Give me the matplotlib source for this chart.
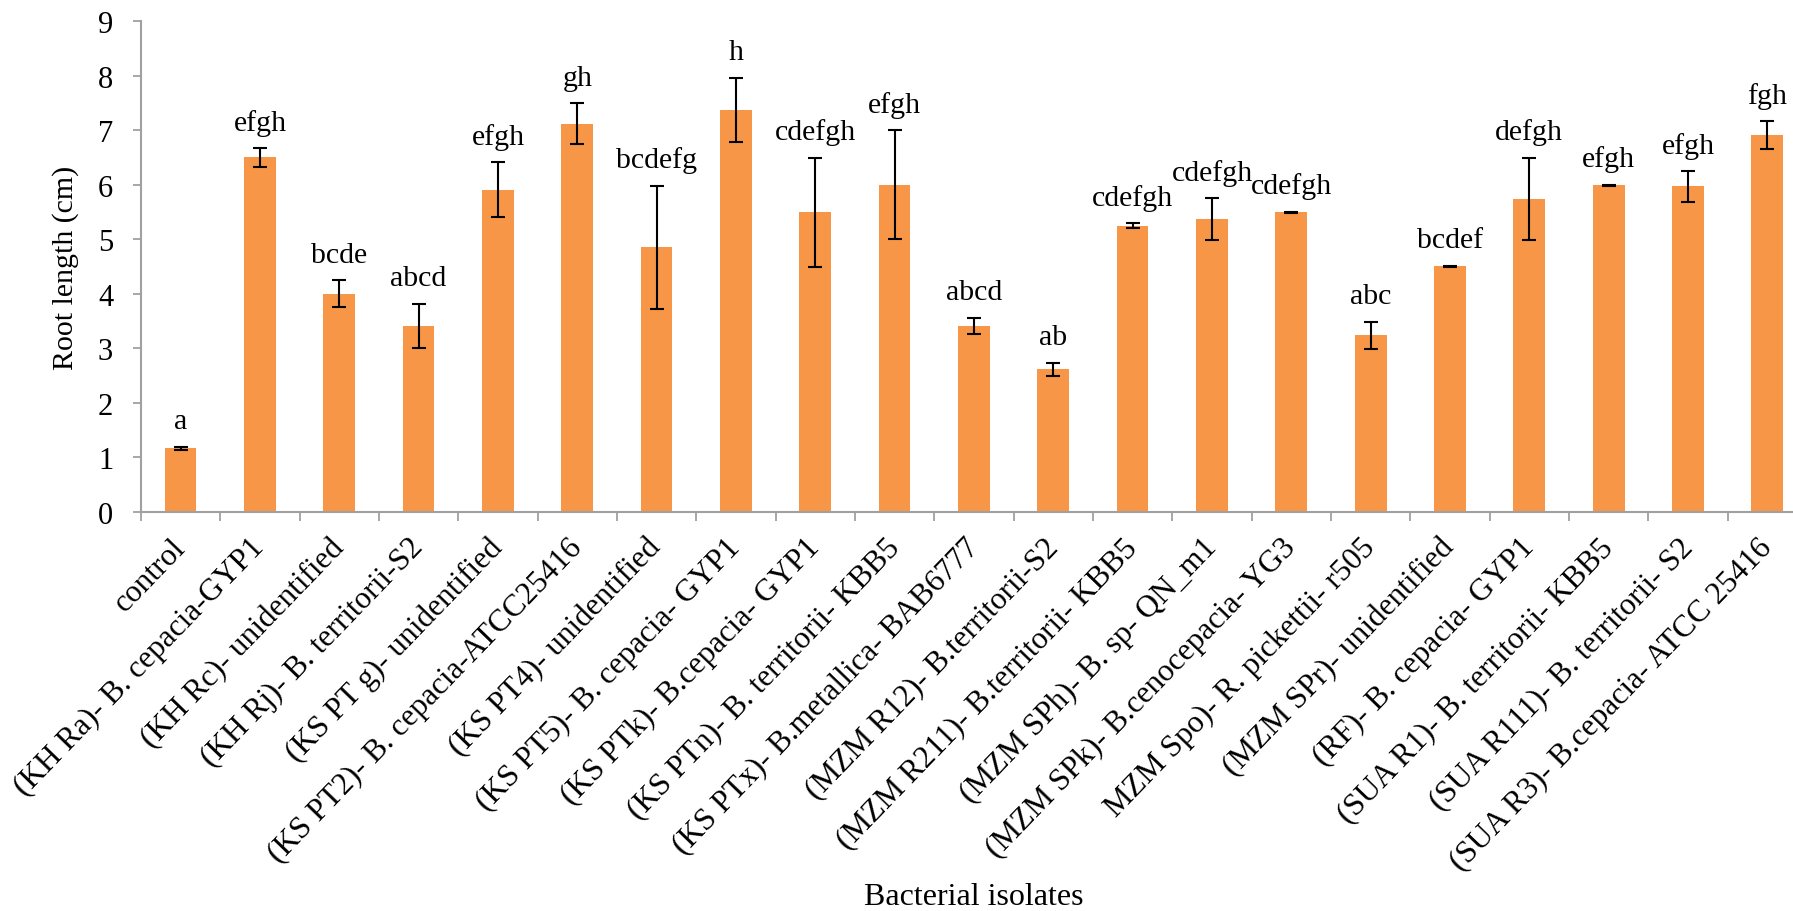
import numpy as np
import matplotlib
matplotlib.use("Agg")
import matplotlib.pyplot as plt

plt.rcParams["font.family"] = "Liberation Serif"

isolates = [
    "control",
    "(KH Ra)- B. cepacia-GYP1",
    "(KH Rc)- unidentified",
    "(KH Rj)- B. territorii-S2",
    "(KS PT g)- unidentified",
    "(KS PT2)- B. cepacia-ATCC25416",
    "(KS PT4)- unidentified",
    "(KS PT5)- B. cepacia- GYP1",
    "(KS PTk)- B.cepacia- GYP1",
    "(KS PTn)- B. territorii- KBB5",
    "(KS PTx)- B.metallica- BAB6777",
    "(MZM R12)- B.territorii-S2",
    "(MZM R211)- B.territorii- KBB5",
    "(MZM SPh)- B. sp- QN_m1",
    "(MZM SPk)- B.cenocepacia- YG3",
    "MZM Spo)- R. pickettii- r505",
    "(MZM SPr)- unidentified",
    "(RF)- B. cepacia- GYP1",
    "(SUA R1)- B. territorii- KBB5",
    "(SUA R111)- B. territorii- S2",
    "(SUA R3)- B.cepacia- ATCC 25416",
]
root_length = [1.17, 6.50, 4.00, 3.41, 5.91, 7.12, 4.85, 7.37, 5.49, 6.00, 3.41,
               2.62, 5.25, 5.37, 5.49, 3.24, 4.50, 5.74, 5.99, 5.97, 6.91]
std_err = [0.03, 0.17, 0.25, 0.41, 0.50, 0.37, 1.13, 0.59, 1.00, 1.00, 0.15,
           0.12, 0.04, 0.38, 0.01, 0.25, 0.01, 0.75, 0.01, 0.28, 0.25]
groups = ["a", "efgh", "bcde", "abcd", "efgh", "gh", "bcdefg", "h", "cdefgh", "efgh", "abcd",
          "ab", "cdefgh", "cdefgh", "cdefgh", "abc", "bcdef", "defgh", "efgh", "efgh", "fgh"]

fig = plt.figure(figsize=(17.93, 9.12), dpi=100)
ax = fig.add_axes([0.0786, 0.4375, 0.9292, 0.5384])

x = np.arange(len(isolates))
ax.bar(x, root_length, width=0.4, color="#F79646", zorder=2)
ax.errorbar(x, root_length, yerr=std_err, fmt="none", ecolor="black",
            elinewidth=1.5, capsize=5, capthick=1.5, zorder=3)

# letters of significance groups above each error bar
for xi, v, e, g in zip(x, root_length, std_err, groups):
    ax.annotate(g, (xi, v + e), xytext=(0, 9), textcoords="offset points",
                ha="center", va="bottom", fontsize=21.5)

ax.set_xlim(-0.5, len(isolates) - 0.5)
ax.set_ylim(0, 9)
ax.set_yticks(range(10))
ax.tick_params(axis="y", labelsize=22, length=6, width=1.3, color="#A0A0A0", pad=14)

ax.set_xticks(x)
ax.set_xticklabels(isolates, rotation=46, ha="right", va="center",
                   rotation_mode="anchor", fontsize=22.5)
ax.tick_params(axis="x", which="major", length=0, pad=22)
ax.set_xticks(np.arange(len(isolates) + 1) - 0.5, minor=True)
ax.tick_params(axis="x", which="minor", length=6.5, width=1.3, color="#A0A0A0")

for s in ["top", "right"]:
    ax.spines[s].set_visible(False)
for s in ["left", "bottom"]:
    ax.spines[s].set_color("#A0A0A0")
    ax.spines[s].set_linewidth(1.5)

ax.set_ylabel("Root length (cm)", fontsize=21.5)
ax.yaxis.set_label_coords(-0.037, 0.5)
fig.text(0.543, 0.0077, "Bacterial isolates", fontsize=23, ha="center", va="baseline")

fig.savefig("out.png", dpi=100)
